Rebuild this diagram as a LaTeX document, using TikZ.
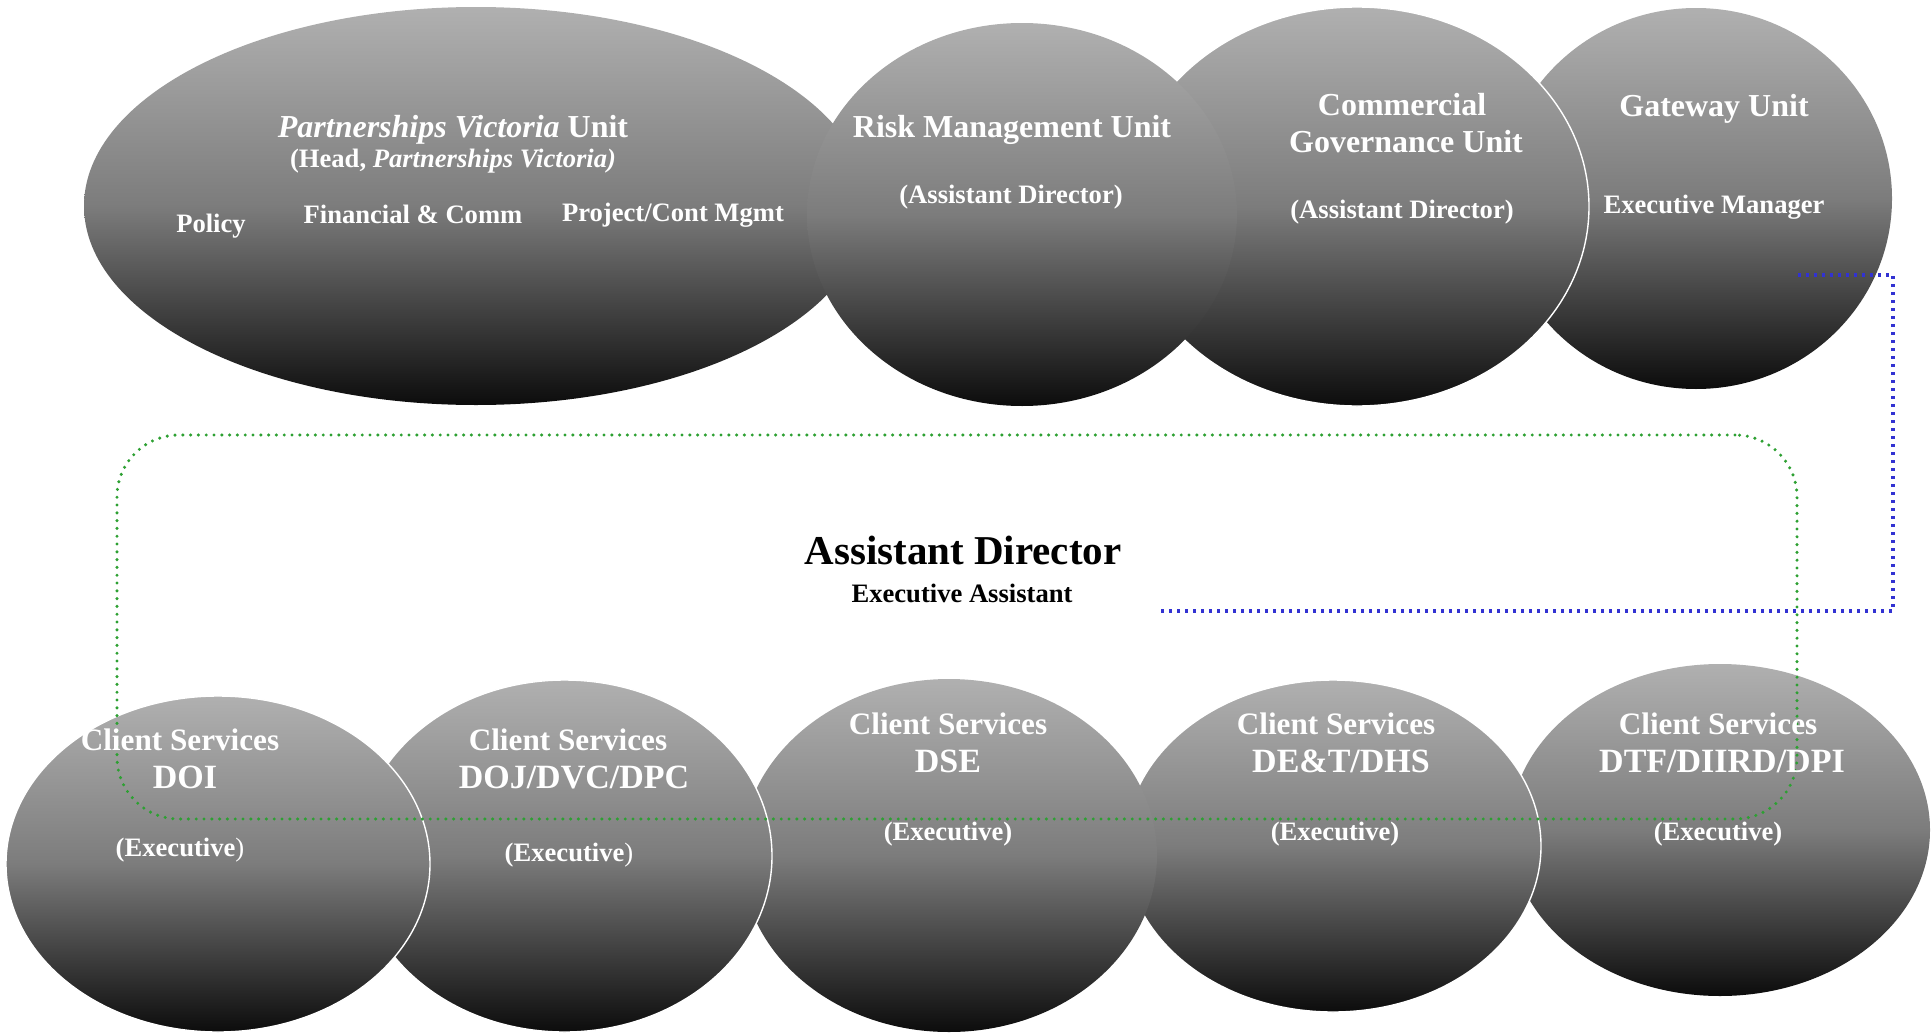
\documentclass[tikz,border=0pt]{standalone}
\usepackage{fontspec}
\setmainfont{Liberation Serif}
\usetikzlibrary{shapes.geometric}
\definecolor{gtop}{RGB}{176,176,176}
\definecolor{gmid}{RGB}{124,124,124}
\definecolor{gbot}{RGB}{12,12,12}
\definecolor{dotgreen}{RGB}{45,160,50}
\definecolor{dotblue}{RGB}{50,50,210}
\begin{document}
\begin{tikzpicture}[x=0.5pt,y=-0.5pt,
  unit/.style={ellipse, inner sep=0pt, outer sep=0pt, top color=gtop, bottom color=gbot, middle color=gmid},
  rimmed/.style={draw=white, line width=0.7pt},
  ttl/.style={text=white, font=\bfseries\fontsize{16}{19}\selectfont, inner sep=0pt, anchor=base},
  sub/.style={text=white, font=\bfseries\fontsize{13.3}{16}\selectfont, inner sep=0pt, anchor=base},
  cs/.style={text=white, font=\bfseries\fontsize{15.6}{18}\selectfont, inner sep=0pt, anchor=base},
  code/.style={text=white, font=\bfseries\fontsize{17}{20}\selectfont, inner sep=0pt, anchor=base},
  adt/.style={text=black, font=\bfseries\fontsize{20.5}{24}\selectfont, inner sep=0pt, anchor=base},
  eat/.style={text=black, font=\bfseries\fontsize{13.3}{16}\selectfont, inner sep=0pt, anchor=base},
  greenbox/.style={draw=dotgreen, line width=1.7pt, dash pattern=on 0pt off 3.9pt, line cap=round, rounded corners=31pt, inner sep=0pt, outer sep=0pt},
  blueline/.style={draw=dotblue, line width=1.6pt, dash pattern=on 1.6pt off 2.4pt}
]
\useasboundingbox (0,0) rectangle (1932,1033);

% top row
\node[unit, minimum width=392pt, minimum height=199pt] (pv) at (476,206) {};
\node[unit, minimum width=196pt, minimum height=190.5pt] (gw) at (1696,198.5) {};
\node[unit, rimmed, minimum width=232pt, minimum height=199.5pt] (cg) at (1357,206.5) {};
\node[unit, minimum width=215pt, minimum height=191.5pt] (rm) at (1022,214.5) {};

% bottom row
\node[unit, minimum width=210pt, minimum height=166pt] (dtf) at (1720,830) {};
\node[unit, rimmed, minimum width=208pt, minimum height=166pt] (det) at (1333,846) {};
\node[unit, minimum width=208pt, minimum height=176.5pt] (dse) at (949,855.5) {};
\node[unit, rimmed, minimum width=207.5pt, minimum height=176pt] (doj) at (564.5,856) {};
\node[unit, rimmed, minimum width=212pt, minimum height=168pt] (doi) at (218,864) {};

% Assistant Director box
\node[greenbox, minimum width=840pt, minimum height=192pt] (adbox) at (957,627) {};

% connector from Gateway Unit to Assistant Director
\coordinate (bs) at (1798,275);
\coordinate (bc1) at (1893,275);
\coordinate (bc2) at (1893,611);
\coordinate (be) at (1158,611);
\draw[blueline] (bs) -- (bc1) -- (bc2) -- (be);

% top texts
\node[ttl] (pvt) at (453,137) {\textit{Partnerships Victoria} Unit};
\node[sub] (pvh) at (453,167) {(Head, \textit{Partnerships Victoria)}};
\node[sub] (pol) at (211,232) {Policy};
\node[sub] (fin) at (413,223) {Financial \& Comm};
\node[sub] (pcm) at (673,221) {Project/Cont Mgmt};
\node[ttl] (rmt) at (1012,137) {Risk Management Unit};
\node[sub] (rma) at (1011,203) {(Assistant Director)};
\node[ttl] (cg1) at (1402,115) {Commercial};
\node[ttl] (cg2) at (1406,152) {Governance Unit};
\node[sub] (cga) at (1402,218) {(Assistant Director)};
\node[ttl] (gwt) at (1714,116) {Gateway Unit};
\node[sub] (gwm) at (1714,213) {Executive Manager};

% middle texts
\node[adt] (adn) at (963,564) {Assistant Director};
\node[eat] (ade) at (962,602) {Executive Assistant};

% bottom texts
\node[cs] (doi1) at (180,750) {Client Services};
\node[code] (doi2) at (185,788) {DOI};
\node[sub] (doi3) at (180,856) {(Executive\textmd{)}};
\node[cs] (doj1) at (568,750) {Client Services};
\node[code] (doj2) at (574,788) {DOJ/DVC/DPC};
\node[sub] (doj3) at (569,861) {(Executive\textmd{)}};
\node[cs] (dse1) at (948,734) {Client Services};
\node[code] (dse2) at (948,772) {DSE};
\node[sub] (dse3) at (948,840) {(Executive)};
\node[cs] (det1) at (1336,734) {Client Services};
\node[code] (det2) at (1341,772) {DE\&T/DHS};
\node[sub] (det3) at (1335,840) {(Executive)};
\node[cs] (dtf1) at (1718,734) {Client Services};
\node[code] (dtf2) at (1722,772) {DTF/DIIRD/DPI};
\node[sub] (dtf3) at (1718,840) {(Executive)};
\end{tikzpicture}
\end{document}
